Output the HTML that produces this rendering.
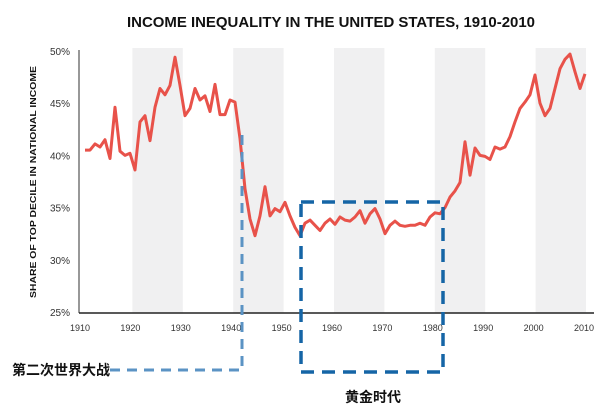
<!DOCTYPE html>
<html><head><meta charset="utf-8"><style>
html,body{margin:0;padding:0;background:#fff;}
svg{display:block;font-family:"Liberation Sans","Noto Sans CJK SC",sans-serif;}
</style></head><body>
<svg id="chart" width="605" height="413" viewBox="0 0 605 413">
<text x="331" y="27" text-anchor="middle" font-size="15" font-weight="bold" fill="#111" textLength="408" lengthAdjust="spacingAndGlyphs">INCOME INEQUALITY IN THE UNITED STATES, 1910-2010</text>
<g id="bands"></g>
<g id="yticks"></g>
<g id="xticks"></g>
<line x1="79" y1="50" x2="79" y2="313" stroke="#777" stroke-width="1.5"/>
<line x1="79" y1="313" x2="594" y2="313" stroke="#222" stroke-width="1.5"/>
<text transform="translate(36,182) rotate(-90)" text-anchor="middle" font-size="8.5" font-weight="bold" fill="#111" textLength="232" lengthAdjust="spacingAndGlyphs">SHARE OF TOP DECILE IN NATIONAL INCOME</text>
<path id="series" fill="none" stroke="#e8524a" stroke-width="3" stroke-linejoin="round"/>
<polyline points="110,370 242,370 242,135" fill="none" stroke="#5b93c4" stroke-width="3" stroke-dasharray="10,7"/>
<rect x="301" y="202" width="142" height="170" fill="none" stroke="#1565a6" stroke-width="3.5" stroke-dasharray="13,8"/>
<text x="12" y="375" font-size="14" font-weight="bold" fill="#111">第二次世界大战</text>
<text x="345" y="402" font-size="14" font-weight="bold" fill="#111">黄金时代</text>
</svg>
<script>
const years=[];for(let y=1910;y<=2010;y++)years.push(y);
const shares=[40.6,40.6,41.2,40.9,41.6,39.8,44.7,40.5,40.1,40.3,
38.7,43.3,43.9,41.5,44.7,46.5,45.9,46.8,49.5,46.8,
43.9,44.6,46.5,45.4,45.8,44.3,46.9,44.0,44.0,45.4,
45.2,41.7,36.9,34.0,32.4,34.3,37.1,34.3,35.0,34.7,
35.6,34.3,33.2,32.4,33.6,33.9,33.4,32.9,33.6,34.0,
33.5,34.2,33.9,33.8,34.2,34.8,33.6,34.5,35.0,34.0,
32.6,33.4,33.8,33.4,33.3,33.4,33.4,33.6,33.4,34.2,
34.6,34.5,35.1,36.1,36.7,37.5,41.4,38.2,40.8,40.1,
40.0,39.7,40.9,40.7,40.9,41.9,43.3,44.6,45.2,45.9,
47.8,45.1,43.9,44.6,46.5,48.4,49.3,49.8,48.1,46.5,47.9];
const yTicks=[25,30,35,40,45,50];
const xTicks=[1910,1920,1930,1940,1950,1960,1970,1980,1990,2000,2010];
const bandStarts=[1920,1940,1960,1980,2000];
const NS='http://www.w3.org/2000/svg';
const X=y=>80+5.04*(y-1910);
const XL=y=>85+5.0*(y-1910);
const Y=v=>313-(v-25)*10.44;
const mk=(t,a,p)=>{const e=document.createElementNS(NS,t);for(const k in a)e.setAttribute(k,a[k]);p.appendChild(e);return e;};
const bands=document.getElementById('bands');
bandStarts.forEach(b=>{const r=mk('rect',{x:X(b)+2,y:48,width:X(b+10)-X(b),height:265,fill:'#f0f0f1'},bands);

});
const yt=document.getElementById('yticks');
yTicks.forEach(v=>{const t=mk('text',{x:70,y:Y(v)+3,'text-anchor':'end','font-size':'10',fill:'#333'},yt);t.textContent=v+'%';

});
const xt=document.getElementById('xticks');
xTicks.forEach(v=>{const t=mk('text',{x:X(v),y:331,'text-anchor':'middle','font-size':'9',fill:'#333'},xt);t.textContent=v;

});
document.getElementById('series').setAttribute('d',years.map((y,i)=>(i?'L':'M')+XL(y).toFixed(1)+','+Y(shares[i]).toFixed(1)).join(''));
</script>
</body></html>
